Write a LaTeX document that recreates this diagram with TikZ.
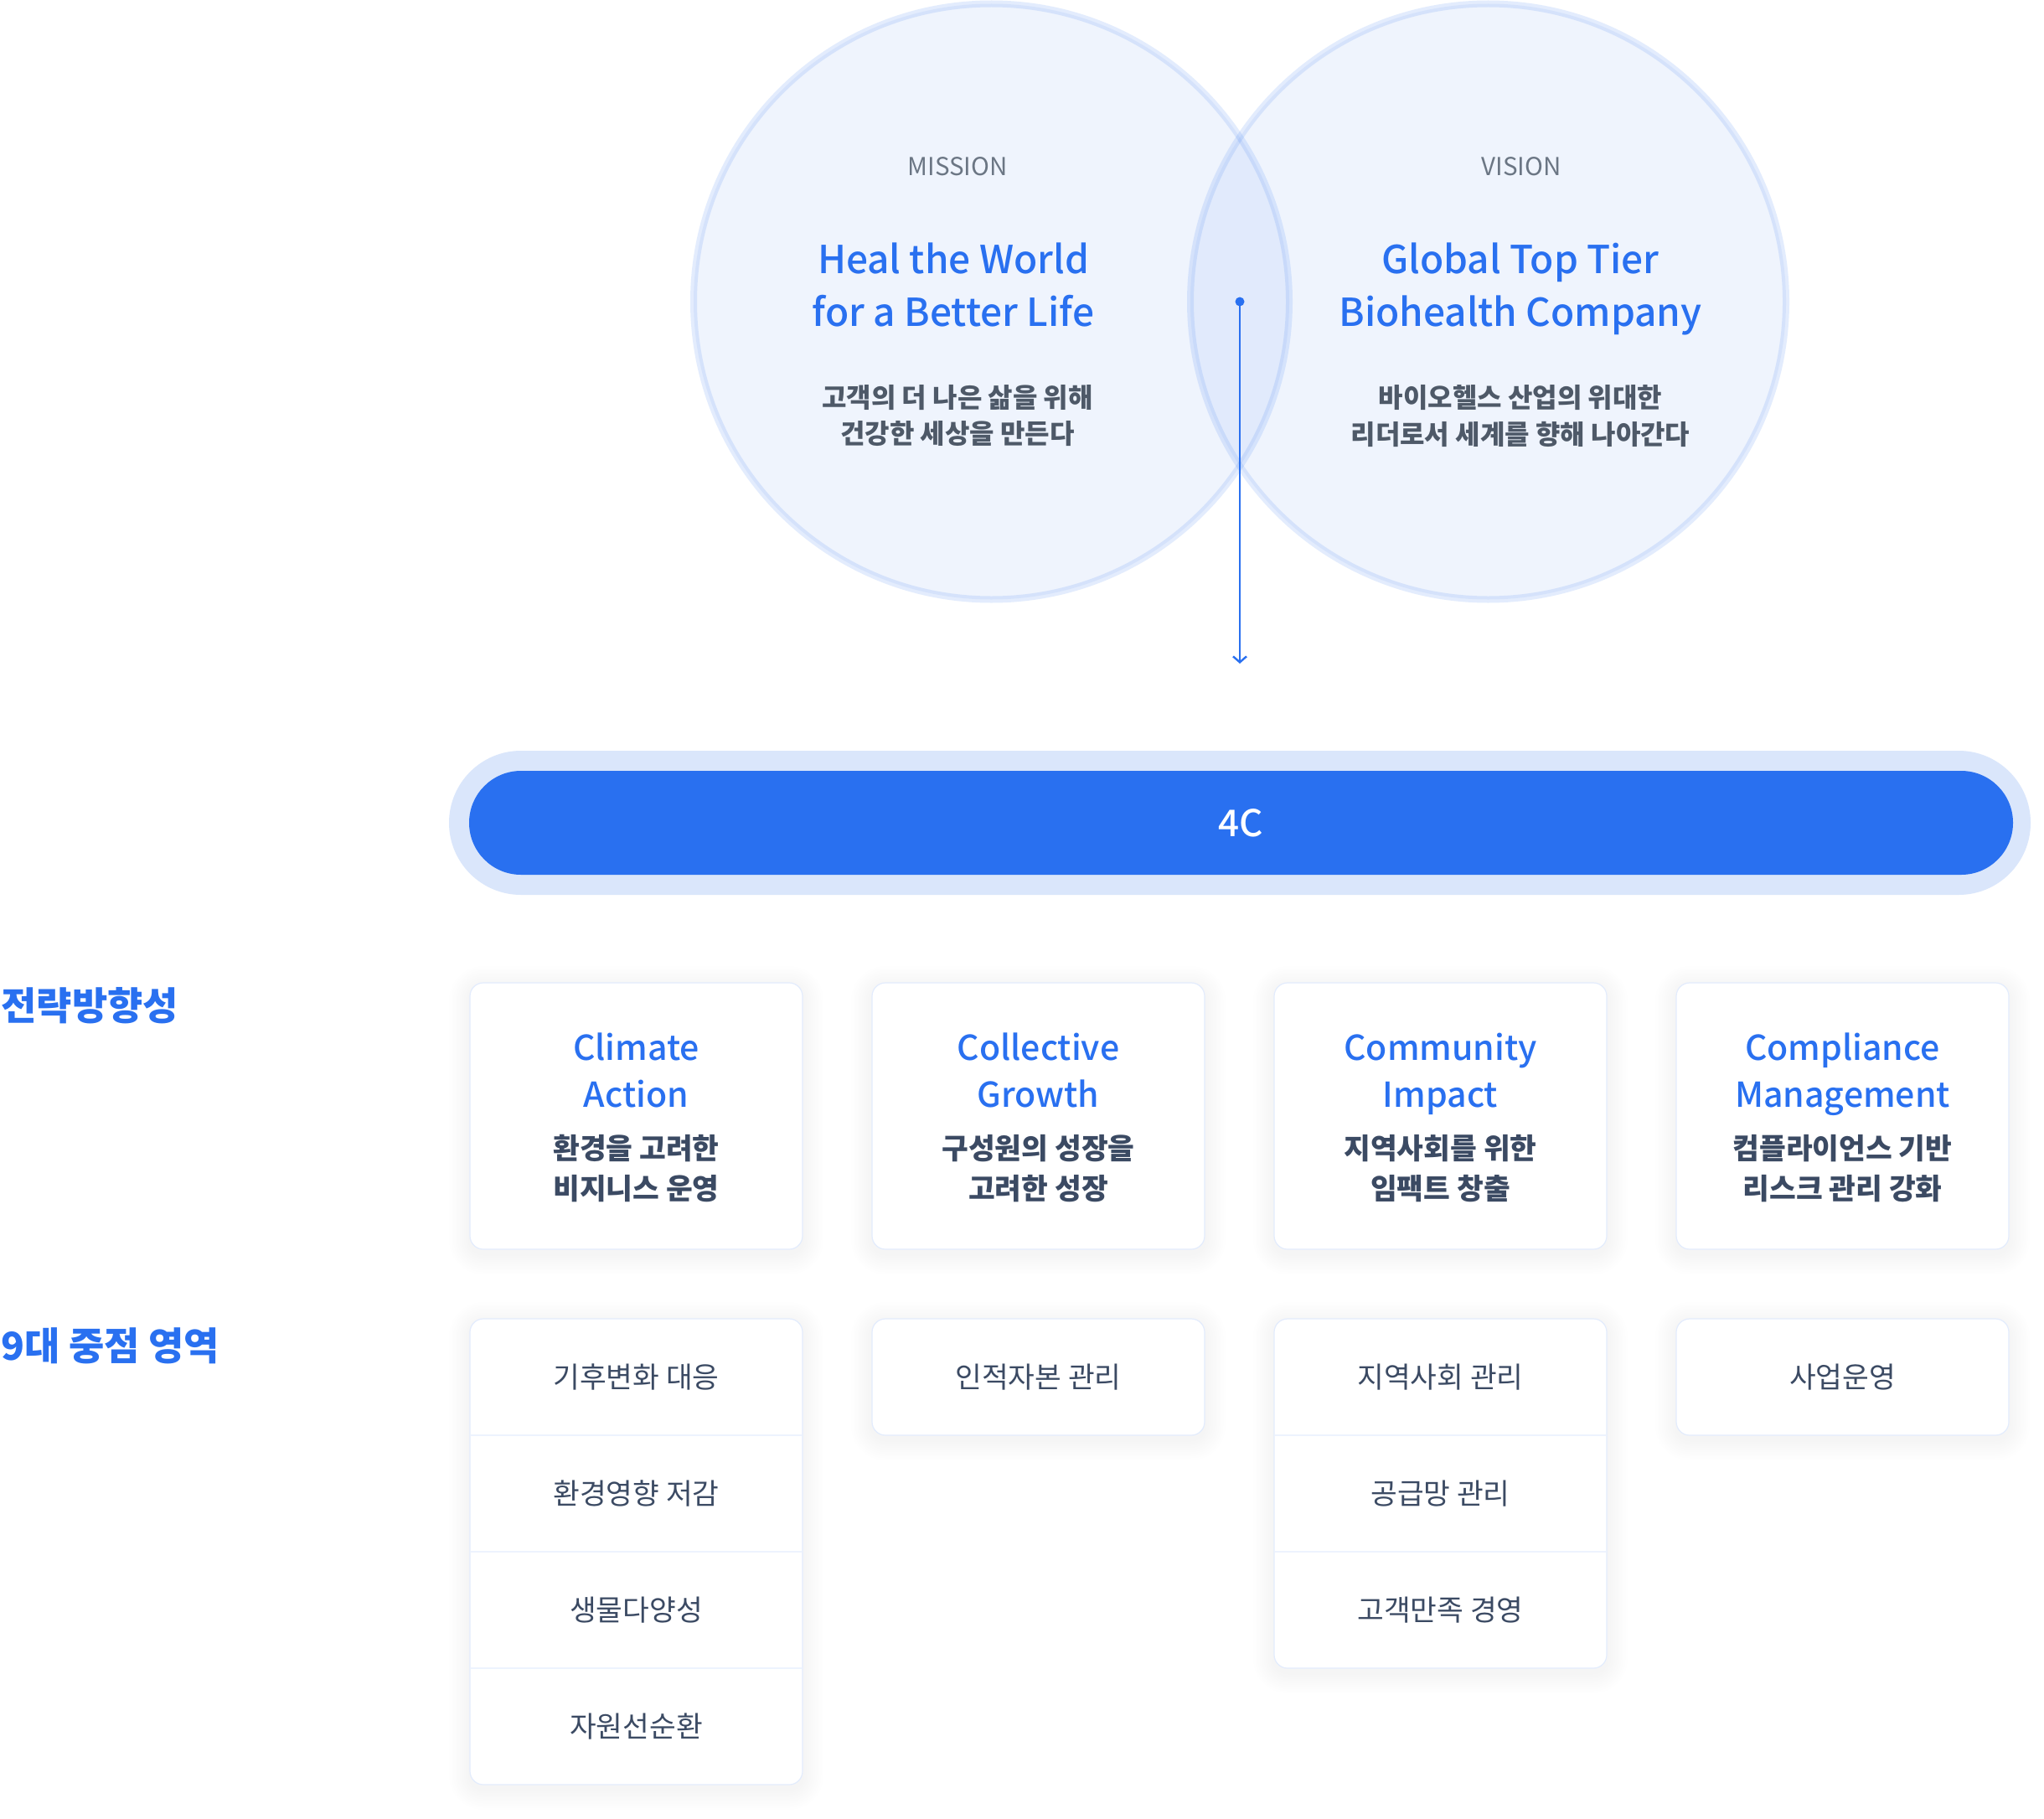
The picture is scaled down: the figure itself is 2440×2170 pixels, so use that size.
\documentclass[tikz,border=0pt]{standalone}
\usepackage{fontspec}
\setmainfont{Noto Sans CJK KR}
\IfFontExistsTF{Noto Sans CJK KR Medium}
  {\newfontfamily\medfont{Noto Sans CJK KR Medium}}
  {\newcommand\medfont{\bfseries}}
\usetikzlibrary{arrows.meta}
\definecolor{brand}{HTML}{2970F0}
\definecolor{barbg}{HTML}{DAE6FB}
\definecolor{ink}{HTML}{3B4A63}
\definecolor{grayA}{HTML}{6B7684}
\definecolor{grayB}{HTML}{4E5968}
\definecolor{cardline}{HTML}{E3ECFD}
\definecolor{rowline}{HTML}{EDF3FE}
\newcommand{\glowrect}[4]{%
  \foreach \k in {1,...,10}{%
    \pgfmathsetmacro{\rr}{16+2.5*\k}%
    \fill[brand, opacity=0.004, rounded corners=\rr pt]
      (#1-2.5*\k, #2-2.5*\k+5) rectangle (#3+2.5*\k, #4+2.5*\k+5);}}
\begin{document}
\begin{tikzpicture}[x=1pt,y=-1pt,
  ring/.style={circle, minimum size=711pt, inner sep=0pt, fill=brand, fill opacity=0.07,
    draw=brand, draw opacity=0.13, line width=8pt},
  smallcap/.style={anchor=base, text=grayA, font=\fontsize{29.5}{34}\selectfont},
  bigtitle/.style={anchor=base, text=brand, font=\fontsize{46}{54}\selectfont\medfont},
  circkr/.style={anchor=center, text=grayB, font=\fontsize{32}{38}\selectfont\bfseries},
  sidelabel/.style={anchor=west, text=brand, font=\fontsize{46}{52}\selectfont\bfseries},
  cardbox/.style={draw=cardline, line width=1.2pt, fill=white, rounded corners=16pt,
    minimum width=397pt, inner sep=0pt},
  cardtitle/.style={anchor=base, text=brand, font=\fontsize{41}{48}\selectfont\medfont},
  cardkr/.style={anchor=center, text=ink, font=\fontsize{34.5}{40}\selectfont\bfseries},
  rowbox/.style={minimum width=397pt, minimum height=139pt, inner sep=0pt},
  rowtext/.style={anchor=center, text=ink, font=\fontsize{34.5}{40}\selectfont},
  divider/.style={draw=rowline, line width=2.5pt}
]
\useasboundingbox (0,0) rectangle (2440,2170);
\fill[white] (0,0) rectangle (2440,2170);

% circles
\node[ring] (mission) at (1183.5,360) {};
\node[ring] (vision) at (1776.5,360) {};

\node[smallcap] (mlab) at (1143,210) {MISSION};
\node[bigtitle] (mt1) at (1138,326) {Heal the World};
\node[bigtitle] (mt2) at (1138,389) {for a Better Life};
\node[circkr] (mk1) at (1143,475) {고객의 더 나은 삶을 위해};
\node[circkr] (mk2) at (1143,518) {건강한 세상을 만든다};

\node[smallcap] (vlab) at (1816,210) {VISION};
\node[bigtitle] (vt1) at (1815,326) {Global Top Tier};
\node[bigtitle] (vt2) at (1815,389) {Biohealth Company};
\node[circkr] (vk1) at (1815,475) {바이오헬스 산업의 위대한};
\node[circkr] (vk2) at (1815,518) {리더로서 세계를 향해 나아간다};

% connector
\node[circle, fill=brand, inner sep=0pt, minimum size=11pt] (dot) at (1480,360) {};
\coordinate (arrowend) at (1480,792);
\draw[brand, line width=2.4pt, -{Straight Barb[length=7pt,width=16pt,line width=2.4pt]}]
  (dot.center) -- (arrowend);

% 4C bar
\node[fill=barbg, rounded corners=86pt, minimum width=1888pt, minimum height=172pt, inner sep=0pt] (barout) at (1480,982) {};
\node[fill=brand, rounded corners=62pt, minimum width=1843pt, minimum height=124pt, inner sep=0pt,
  text=white, font=\fontsize{44}{50}\selectfont\medfont] (fourc) at (1481.5,982) {4C};

% side labels
\node[sidelabel] (lab1) at (-2,1200) {전략방향성};
\node[sidelabel] (lab2) at (-2,1606) {9대 중점 영역};

% strategy cards
\foreach \i in {0,1,2,3}{
  \pgfmathsetmacro{\xa}{561+480*\i}
  \pgfmathsetmacro{\xb}{958+480*\i}
  \glowrect{\xa}{1173}{\xb}{1491}
}
\foreach \i/\ta/\tb/\ka/\kb in {
  0/Climate/Action/환경을 고려한/비지니스 운영,
  1/Collective/Growth/구성원의 성장을/고려한 성장,
  2/Community/Impact/지역사회를 위한/임팩트 창출,
  3/Compliance/Management/컴플라이언스 기반/리스크 관리 강화}{
  \pgfmathsetmacro{\cx}{759.5+480*\i}
  \node[cardbox, minimum height=318pt] (sc\i) at (\cx,1332) {};
  \node[cardtitle] (sct\i a) at (\cx,1265) {\ta};
  \node[cardtitle] (sct\i b) at (\cx,1321) {\tb};
  \node[cardkr] (sck\i a) at (\cx,1371) {\ka};
  \node[cardkr] (sck\i b) at (\cx,1419) {\kb};
}

% focus cards
\glowrect{561}{1574}{958}{2130}
\glowrect{1041}{1574}{1438}{1713}
\glowrect{1521}{1574}{1918}{1991}
\glowrect{2001}{1574}{2398}{1713}

\node[cardbox, minimum height=556pt] (f1) at (759.5,1852) {};
\node[cardbox, minimum height=139pt] (f2) at (1239.5,1643.5) {};
\node[cardbox, minimum height=417pt] (f3) at (1719.5,1782.5) {};
\node[cardbox, minimum height=139pt] (f4) at (2199.5,1643.5) {};

\node[rowbox] (r11) at (759.5,1643.5) {};
\node[rowbox] (r12) at (759.5,1782.5) {};
\node[rowbox] (r13) at (759.5,1921.5) {};
\node[rowbox] (r14) at (759.5,2060.5) {};
\node[rowbox] (r31) at (1719.5,1643.5) {};
\node[rowbox] (r32) at (1719.5,1782.5) {};
\node[rowbox] (r33) at (1719.5,1921.5) {};

\draw[divider] ([xshift=1pt]r11.south west) -- ([xshift=-1pt]r11.south east);
\draw[divider] ([xshift=1pt]r12.south west) -- ([xshift=-1pt]r12.south east);
\draw[divider] ([xshift=1pt]r13.south west) -- ([xshift=-1pt]r13.south east);
\draw[divider] ([xshift=1pt]r31.south west) -- ([xshift=-1pt]r31.south east);
\draw[divider] ([xshift=1pt]r32.south west) -- ([xshift=-1pt]r32.south east);

\node[rowtext] (t11) at (r11) {기후변화 대응};
\node[rowtext] (t12) at (r12) {환경영향 저감};
\node[rowtext] (t13) at (r13) {생물다양성};
\node[rowtext] (t14) at (r14) {자원선순환};
\node[rowtext] (t21) at (f2) {인적자본 관리};
\node[rowtext] (t31) at (r31) {지역사회 관리};
\node[rowtext] (t32) at (r32) {공급망 관리};
\node[rowtext] (t33) at (r33) {고객만족 경영};
\node[rowtext] (t41) at (f4) {사업운영};
\end{tikzpicture}
\end{document}
